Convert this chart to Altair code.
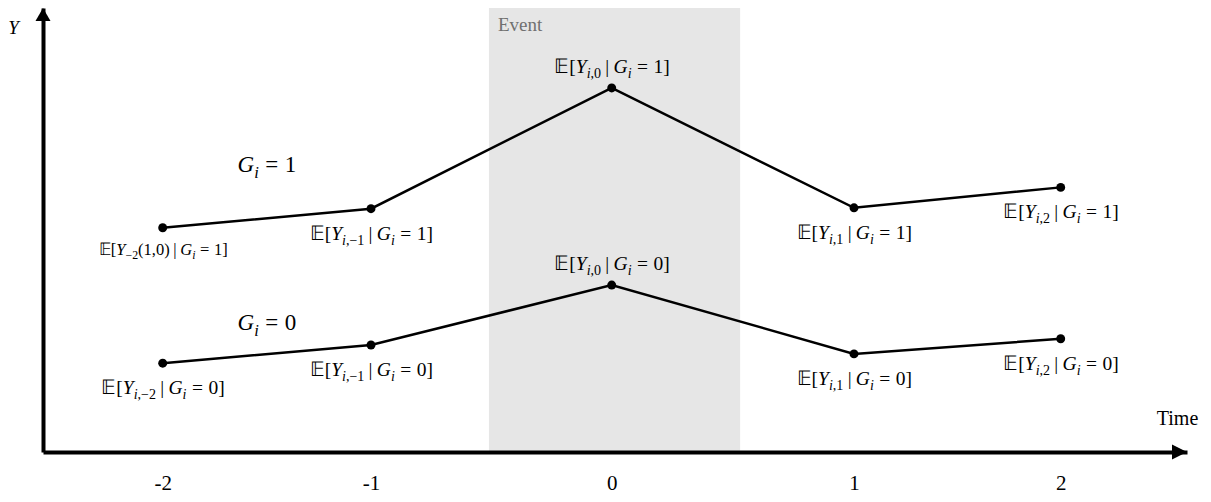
import altair as alt
import pandas as pd

# ---- data ----
times = [-2, -1, 0, 1, 2]
treated_values = [50.5, 54.8, 82.0, 55.0, 59.6]
control_values = [20.0, 24.1, 37.6, 22.1, 25.5]

# labels as (text, kind) pieces: rm = upright, it = italic, sub_* = subscript,
# bar / rel = upright with math spacing around it
treated_labels = [
    [("𝔼[", "rm"), ("Y", "it"), ("−2", "sub_rm"), ("(1,0)", "rm"), ("|", "bar"),
     ("G", "it"), ("i", "sub_it"), ("=", "rel"), ("1]", "rm")],
    [("𝔼[", "rm"), ("Y", "it"), ("i", "sub_it"), (",−1", "sub_rm"), ("|", "bar"),
     ("G", "it"), ("i", "sub_it"), ("=", "rel"), ("1]", "rm")],
    [("𝔼[", "rm"), ("Y", "it"), ("i", "sub_it"), (",0", "sub_rm"), ("|", "bar"),
     ("G", "it"), ("i", "sub_it"), ("=", "rel"), ("1]", "rm")],
    [("𝔼[", "rm"), ("Y", "it"), ("i", "sub_it"), (",1", "sub_rm"), ("|", "bar"),
     ("G", "it"), ("i", "sub_it"), ("=", "rel"), ("1]", "rm")],
    [("𝔼[", "rm"), ("Y", "it"), ("i", "sub_it"), (",2", "sub_rm"), ("|", "bar"),
     ("G", "it"), ("i", "sub_it"), ("=", "rel"), ("1]", "rm")],
]
control_labels = [
    [("𝔼[", "rm"), ("Y", "it"), ("i", "sub_it"), (",−2", "sub_rm"), ("|", "bar"),
     ("G", "it"), ("i", "sub_it"), ("=", "rel"), ("0]", "rm")],
    [("𝔼[", "rm"), ("Y", "it"), ("i", "sub_it"), (",−1", "sub_rm"), ("|", "bar"),
     ("G", "it"), ("i", "sub_it"), ("=", "rel"), ("0]", "rm")],
    [("𝔼[", "rm"), ("Y", "it"), ("i", "sub_it"), (",0", "sub_rm"), ("|", "bar"),
     ("G", "it"), ("i", "sub_it"), ("=", "rel"), ("0]", "rm")],
    [("𝔼[", "rm"), ("Y", "it"), ("i", "sub_it"), (",1", "sub_rm"), ("|", "bar"),
     ("G", "it"), ("i", "sub_it"), ("=", "rel"), ("0]", "rm")],
    [("𝔼[", "rm"), ("Y", "it"), ("i", "sub_it"), (",2", "sub_rm"), ("|", "bar"),
     ("G", "it"), ("i", "sub_it"), ("=", "rel"), ("0]", "rm")],
]
group_names = [
    [("G", "it"), ("i", "sub_it"), ("=", "rel"), ("1", "rm")],
    [("G", "it"), ("i", "sub_it"), ("=", "rel"), ("0", "rm")],
]
group_name_x = [-1.5, -1.5]
group_name_y = [64.6, 29.1]
event_start = [-0.51]
event_end = [0.53]
event_text = ["Event"]
tick_values = [-2, -1, 0, 1, 2]
x_domain = [-2.575, -2, -1, 0, 1, 2, 2.611]
y_domain = [0, 100]

FONT = "Liberation Serif"

# ---- simple math-text layout (Times / Liberation Serif advance widths, em) ----
RM_W = {"[": 0.333, "]": 0.333, "|": 0.2, "=": 0.564, "(": 0.333, ")": 0.333,
        ",": 0.25, "−": 0.564, "𝔼": 0.8}
IT_W = {"Y": 0.556, "G": 0.722, "i": 0.278}
SUB = 0.72
SUB_DROP = 0.25
GAP = {"bar": 0.22, "rel": 0.28}


def seg_width(text, kind):
    table = IT_W if kind in ("it", "sub_it") else RM_W
    w = sum(0.5 if ch.isdigit() else table.get(ch, 0.5) for ch in text)
    return w * (SUB if kind.startswith("sub") else 1.0)


def layout(pieces, ax, ay, fs, base_dy):
    rows = []
    cursor = 0.0
    placed = []
    for text, kind in pieces:
        gap = GAP.get(kind, 0.0) * fs
        cursor += gap
        w = seg_width(text, kind) * fs
        placed.append((text, kind, cursor, w))
        cursor += w + gap
    shift = -cursor / 2
    for text, kind, x0, w in placed:
        sub = kind.startswith("sub")
        right = "𝔼" in text
        rows.append({
            "x": ax, "y": ay, "text": text,
            "ox": round(shift + (x0 + w if right else x0), 2),
            "oy": round(base_dy + (SUB_DROP * fs if sub else 0.0), 2),
            "size": round(fs * SUB if sub else fs, 2),
            "style": "it" if kind in ("it", "sub_it") else "rm",
            "align": "right" if right else "left",
        })
    return rows


rows = []
for t, v in zip(times, treated_values):
    rows.append({"time": t, "value": v, "group": 1})
for t, v in zip(times, control_values):
    rows.append({"time": t, "value": v, "group": 0})
df = pd.DataFrame(rows)

LABEL_FS = 19.5
text_rows = []
for i, (t, v, lab) in enumerate(zip(times, treated_values, treated_labels)):
    if t == 0:
        text_rows += layout(lab, t, v, LABEL_FS, -15)
    elif i == 0:
        text_rows += layout(lab, t, v, 16.5, 27)
    else:
        text_rows += layout(lab, t, v, LABEL_FS, 31)
for t, v, lab in zip(times, control_values, control_labels):
    text_rows += layout(lab, t, v, LABEL_FS, -15 if t == 0 else 31)
for name, gx, gy in zip(group_names, group_name_x, group_name_y):
    text_rows += layout(name, gx, gy, 23, 7)
text_df = pd.DataFrame(text_rows)

event_df = pd.DataFrame({"start": event_start, "end": event_end,
                         "text": event_text, "lo": [y_domain[0]], "hi": [y_domain[1]]})
arrow_x_df = pd.DataFrame({"x": [x_domain[-1]], "y": [y_domain[0]]})
arrow_y_df = pd.DataFrame({"x": [x_domain[0]], "y": [y_domain[1]]})

W, H = 1144, 444
xscale = alt.Scale(domain=x_domain, range=[0, 119.7, 328, 568.7, 811, 1017.7, W],
                   nice=False, zero=False)
yscale = alt.Scale(domain=y_domain, nice=False, zero=False)

xaxis = alt.Axis(values=tick_values, labelExpr="datum.value + ''", grid=False,
                 ticks=False, tickSize=0, domain=True, domainColor="black",
                 domainWidth=4, labelFont=FONT, labelFontSize=21,
                 labelColor="black", labelPadding=31, labelBaseline="middle",
                 title="Time", titleFont=FONT, titleFontSize=20,
                 titleFontWeight="normal", titleColor="black", titleX=1134,
                 titleY=-34, titleAngle=0, titleAlign="center",
                 titleBaseline="middle", zindex=1)
yaxis = alt.Axis(grid=False, ticks=False, labels=False, domain=True,
                 domainColor="black", domainWidth=4, title="Y", titleFont=FONT,
                 titleFontStyle="italic", titleFontSize=19,
                 titleFontWeight="normal", titleColor="black", titleAngle=0,
                 titleX=-30, titleY=19, titleAlign="center",
                 titleBaseline="middle", zindex=1)


def X(field):
    return alt.X(field, type="quantitative", scale=xscale, axis=xaxis)


def Y(field):
    return alt.Y(field, type="quantitative", scale=yscale, axis=yaxis)


shade = alt.Chart(event_df).mark_rect(color="#e6e6e6").encode(
    x=X("start"), x2="end", y=Y("lo"), y2="hi")

event_label = alt.Chart(event_df).mark_text(
    font=FONT, fontSize=19, color="#707070", align="left", baseline="middle", dx=9
).encode(x=X("start"), y=alt.value(17), text="text")

lines = alt.Chart(df).mark_line(color="black", strokeWidth=2.5).encode(
    x=X("time"), y=Y("value"), detail="group:N")

points = alt.Chart(df).mark_circle(color="black", size=80, opacity=1).encode(
    x=X("time"), y=Y("value"))

text_layers = []
for style in ("rm", "it"):
    for align in ("left", "right"):
        text_layers.append(
            alt.Chart(text_df).transform_filter(
                f"datum.style == '{style}' && datum.align == '{align}'"
            ).mark_text(
                font=FONT, fontStyle="italic" if style == "it" else "normal",
                align=align, baseline="alphabetic", color="black",
                dx=alt.ExprRef("datum.ox"), dy=alt.ExprRef("datum.oy"),
                fontSize=alt.ExprRef("datum.size"),
            ).encode(
                x=X("x"), y=Y("y"),
                text="text:N",
            )
        )

arrow_x = alt.Chart(arrow_x_df).mark_point(
    shape="M-1,-0.5L0,0L-1,0.5Z", size=900, filled=True, color="black", opacity=1
).encode(x=X("x"), y=Y("y"))
arrow_y = alt.Chart(arrow_y_df).mark_point(
    shape="M-0.5,0.867L0,0L0.5,0.867Z", size=900, filled=True, color="black", opacity=1
).encode(x=X("x"), y=Y("y"))

chart = alt.layer(
    shade, event_label, lines, points, *text_layers, arrow_x, arrow_y
).properties(
    width=W, height=H,
    padding={"left": 35, "top": 0, "right": 16, "bottom": 42},
    autosize=alt.AutoSizeParams(type="none"),
    background="white",
).configure_view(stroke=None)

chart.save("out.html", embed_options={"renderer": "svg", "actions": False})
